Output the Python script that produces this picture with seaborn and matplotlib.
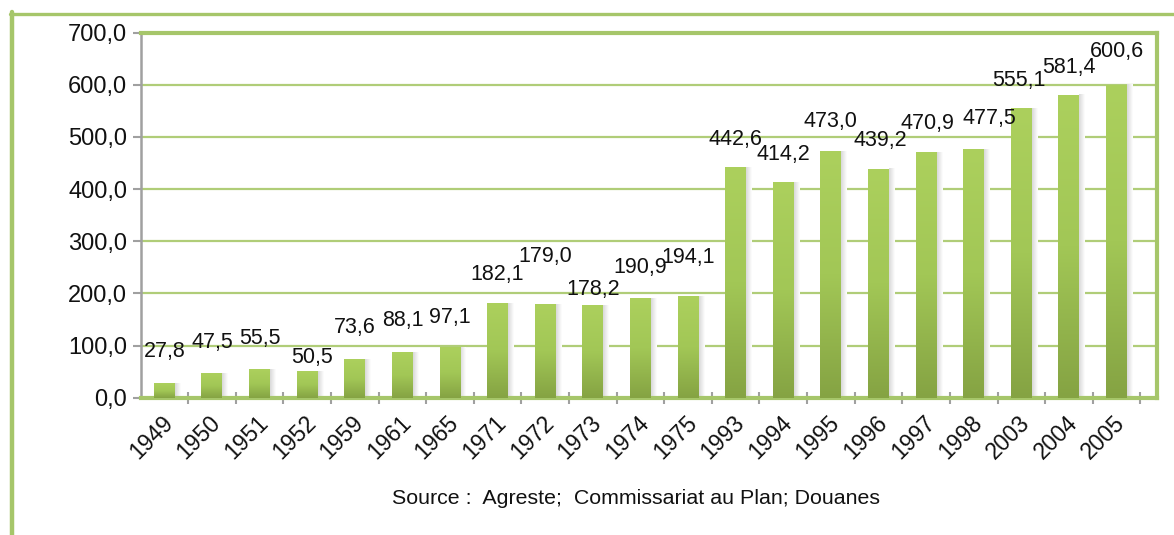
import numpy as np
import pandas as pd
import matplotlib
matplotlib.use("Agg")
import matplotlib.pyplot as plt
import matplotlib.transforms as mtransforms
import seaborn as sns
from matplotlib.colors import LinearSegmentedColormap
from matplotlib.lines import Line2D
from matplotlib.ticker import FixedLocator

# Data
years = ["1949", "1950", "1951", "1952", "1959", "1961", "1965", "1971", "1972",
         "1973", "1974", "1975", "1993", "1994", "1995", "1996", "1997", "1998",
         "2003", "2004", "2005"]
values = [27.8, 47.5, 55.5, 50.5, 73.6, 88.1, 97.1, 182.1, 179.0,
          178.2, 190.9, 194.1, 442.6, 414.2, 473.0, 439.2, 470.9, 477.5,
          555.1, 581.4, 600.6]
# placement of each value label: height (data units) and sideways shift (categories)
label_y = [88, 105, 114, 78, 134, 149, 153, 237, 270,
           207, 249, 268, 496, 467, 529, 494, 525, 536,
           609, 634, 663]
label_dx = [0, 0, 0, 0.1, 0, 0, 0, 0, 0,
            0, 0, 0, 0, 0, 0, 0.03, 0.02, 0.33,
            -0.05, 0, 0]
y_ticks = [0, 100, 200, 300, 400, 500, 600, 700]
source_text = "Source :  Agreste;  Commissariat au Plan; Douanes"

GREEN = "#a6c66a"
GRID = "#b0cd78"
GRAY = "#a0a0a0"

sns.set_theme(style="white")
plt.rcParams["font.family"] = ["Liberation Sans", "DejaVu Sans"]

W, H = 1174, 535
fig = plt.figure(figsize=(W / 100, H / 100), dpi=100)
ax = fig.add_axes([141 / W, 1 - 397.7 / H, (1157 - 141) / W, (397.7 - 32.7) / H])

df = pd.DataFrame({"year": years, "value": values})
sns.barplot(data=df, x="year", y="value", order=years, width=0.44,
            color="#9bbb59", ax=ax, zorder=3, saturation=1)

# vertical gradient fill and soft right-hand shadow for each bar
cmap = LinearSegmentedColormap.from_list("bar", ["#85a343", "#a2c756", "#acd05d"])
shade = LinearSegmentedColormap.from_list("shade", ["#d8d8d8", "#ffffff"])
grad = np.linspace(0, 1, 256).reshape(-1, 1)
hgrad = np.linspace(0, 1, 64).reshape(1, -1)
for p in list(ax.patches):
    x0, y0, w, h = p.get_x(), p.get_y(), p.get_width(), p.get_height()
    ax.imshow(hgrad, extent=[x0 + w, x0 + w + 0.12, 0, h], origin="lower",
              cmap=shade, aspect="auto", zorder=2.5, interpolation="bilinear")
    im = ax.imshow(grad, extent=[x0, x0 + w, y0, y0 + h], origin="lower",
                   cmap=cmap, aspect="auto", zorder=3, interpolation="bilinear")
    im.set_clip_path(p)
    p.set_facecolor("none")
    p.set_edgecolor("none")

ax.set_xlim(-0.49, 20.85)
ax.set_ylim(0, 700)

# value labels
for i, (v, ly, dx) in enumerate(zip(values, label_y, label_dx)):
    ax.text(i + dx, ly, f"{v:.1f}".replace(".", ","), ha="center", va="center",
            fontsize=15.5, color="#111111", zorder=5)

# y axis
ax.set_yticks(y_ticks)
ax.set_yticklabels([f"{t:.1f}".replace(".", ",") for t in y_ticks], fontsize=17)
ax.yaxis.grid(True, color=GRID, linewidth=1.6)
ax.set_axisbelow(True)
ax.tick_params(axis="y", which="major", left=True, length=6, width=1.5,
               color=GRAY, pad=4, labelcolor="#111111")

# x axis: rotated year labels, separators between categories
ax.set_xlabel("")
ax.set_ylabel("")
ax.tick_params(axis="x", which="major", length=0, pad=10, labelsize=16.5,
               labelcolor="#111111")
for lab in ax.get_xticklabels():
    lab.set_rotation(45)
    lab.set_ha("right")
    lab.set_va("top")
    lab.set_rotation_mode("anchor")
    lab.set_transform(lab.get_transform() +
                      mtransforms.ScaledTranslation(-3 / 100, 0, fig.dpi_scale_trans))
ax.xaxis.set_minor_locator(FixedLocator([i + 0.5 for i in range(-1, 21)]))
ax.tick_params(axis="x", which="minor", bottom=True, length=8, width=1.5,
               color=GRAY, direction="inout")

# plot-area border
for side in ("top", "right", "bottom"):
    ax.spines[side].set_color(GREEN)
    ax.spines[side].set_linewidth(3)
ax.spines["left"].set_color(GRAY)
ax.spines["left"].set_linewidth(1.8)

# outer frame lines
fig.add_artist(Line2D([10 / W, 1.0], [1 - 13.5 / H, 1 - 13.5 / H],
                      transform=fig.transFigure, color=GREEN, linewidth=2.4))
fig.add_artist(Line2D([12 / W, 12 / W], [1 - 12 / H, 0.0],
                      transform=fig.transFigure, color=GREEN, linewidth=3.2))

fig.text(636.5 / W, 1 - 498 / H, source_text, ha="center", va="center",
         fontsize=15.4, color="#111111")

fig.savefig("out.png", dpi=100)
